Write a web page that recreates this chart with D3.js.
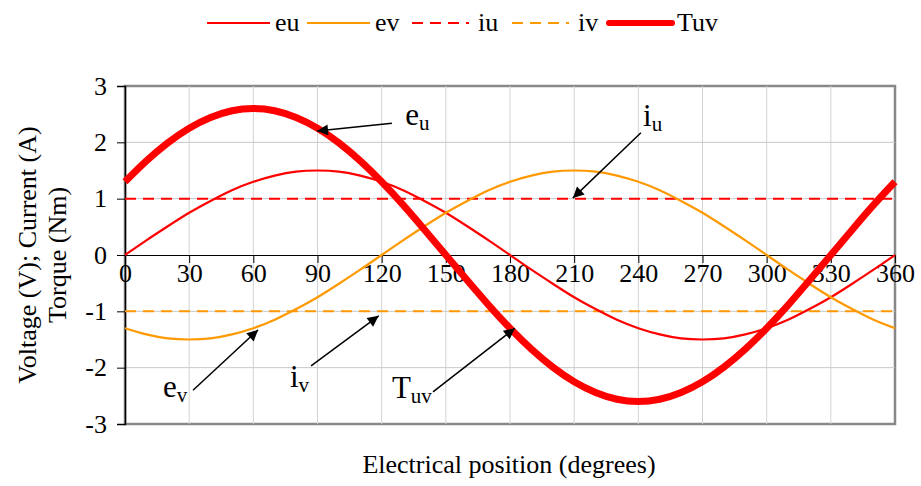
<!DOCTYPE html>
<html>
<head>
<meta charset="utf-8">
<script src="https://cdn.jsdelivr.net/npm/d3@7/dist/d3.min.js"></script>
<style>
  html, body { margin: 0; padding: 0; background: #fff; }
  svg { display: block; font-family: "Liberation Serif", "Times New Roman", serif; }
  svg text { font-family: "Liberation Serif", "Times New Roman", serif; }
</style>
</head>
<body>
<svg id="chart" width="921" height="486"></svg>
<script>
// Electrical position (degrees), sampled every 10 degrees
const positions = [0,10,20,30,40,50,60,70,80,90,100,110,120,130,140,150,160,170,180,
  190,200,210,220,230,240,250,260,270,280,290,300,310,320,330,340,350,360];

// Phase voltages (V)
const eu = [0,0.26,0.51,0.75,0.96,1.15,1.30,1.41,1.48,1.50,1.48,1.41,1.30,1.15,0.96,0.75,0.51,0.26,0,
  -0.26,-0.51,-0.75,-0.96,-1.15,-1.30,-1.41,-1.48,-1.50,-1.48,-1.41,-1.30,-1.15,-0.96,-0.75,-0.51,-0.26,0];
const ev = [-1.30,-1.41,-1.48,-1.50,-1.48,-1.41,-1.30,-1.15,-0.96,-0.75,-0.51,-0.26,0,0.26,0.51,0.75,0.96,1.15,1.30,
  1.41,1.48,1.50,1.48,1.41,1.30,1.15,0.96,0.75,0.51,0.26,0,-0.26,-0.51,-0.75,-0.96,-1.15,-1.30];

// Phase currents (A)
const iu = [1,1,1,1,1,1,1,1,1,1,1,1,1,1,1,1,1,1,1,1,1,1,1,1,1,1,1,1,1,1,1,1,1,1,1,1,1];
const iv = [-1,-1,-1,-1,-1,-1,-1,-1,-1,-1,-1,-1,-1,-1,-1,-1,-1,-1,-1,-1,-1,-1,-1,-1,-1,-1,-1,-1,-1,-1,-1,-1,-1,-1,-1,-1,-1];

// Torque (Nm)
const Tuv = [1.30,1.67,1.99,2.25,2.44,2.56,2.60,2.56,2.44,2.25,1.99,1.67,1.30,0.89,0.45,0,-0.45,-0.89,-1.30,
  -1.67,-1.99,-2.25,-2.44,-2.56,-2.60,-2.56,-2.44,-2.25,-1.99,-1.67,-1.30,-0.89,-0.45,0,0.45,0.89,1.30];

// Axis ticks
const xTicks = [0,30,60,90,120,150,180,210,240,270,300,330,360];
const yTicks = [-3,-2,-1,0,1,2,3];

// Series names and colours
const seriesNames = ["eu","ev","iu","iv","Tuv"];
const seriesColors = ["#ff0000","#ff9900","#ff0000","#ff9900","#ff0000"];

// Callout annotations: label (main letter + subscript), text anchor, arrow tail and tip (degrees, value)
const calloutMain = ["e","i","e","i","T"];
const calloutSub  = ["u","u","v","v","uv"];
const calloutText = [[131,2.31],[242.2,2.29],[17.8,-2.52],[77.1,-2.34],[124.8,-2.54]];
const calloutTail = [[124.8,2.34],[241.2,2.17],[31.8,-2.40],[87,-1.97],[144,-2.43]];
const calloutTip  = [[89.8,2.20],[209.4,1.01],[62.2,-1.33],[118.6,-1.08],[182.3,-1.30]];

const FONT = "Liberation Serif, Times New Roman, serif";
const svg = d3.select("#chart");
const margin = {left: 125, right: 26, top: 86, bottom: 62};
const W = 921, H = 486;

const x = d3.scaleLinear().domain([0, 360]).range([margin.left, W - margin.right]);
const y = d3.scaleLinear().domain([-3, 3]).range([H - margin.bottom, margin.top]);

const defs = svg.append("defs");
defs.append("marker")
  .attr("id", "arrowhead")
  .attr("viewBox", "0 0 10 10")
  .attr("refX", 10).attr("refY", 5)
  .attr("markerWidth", 15).attr("markerHeight", 11)
  .attr("markerUnits", "userSpaceOnUse")
  .attr("orient", "auto")
  .append("path").attr("d", "M0,0 L10,5 L0,10 z").attr("fill", "#000");

// Plot frame
svg.append("rect")
  .attr("x", x(0)).attr("y", y(3))
  .attr("width", x(360) - x(0)).attr("height", y(-3) - y(3))
  .attr("fill", "#fff").attr("stroke", "#888").attr("stroke-width", 2.5);

// Grid lines
svg.append("g").selectAll("line")
  .data(xTicks.filter(d => d > 0 && d < 360))
  .join("line")
  .attr("x1", d => x(d)).attr("x2", d => x(d))
  .attr("y1", y(3)).attr("y2", y(-3))
  .attr("stroke", "#d3d3d3").attr("stroke-width", 1);
svg.append("g").selectAll("line")
  .data(yTicks.filter(d => d > -3 && d < 3 && d !== 0))
  .join("line")
  .attr("x1", x(0)).attr("x2", x(360))
  .attr("y1", d => y(d)).attr("y2", d => y(d))
  .attr("stroke", "#c8c8c8").attr("stroke-width", 1);

// Y axis
const yAxis = svg.append("g")
  .attr("transform", `translate(${x(0)},0)`)
  .call(d3.axisLeft(y).tickValues(yTicks).tickSize(8).tickPadding(10).tickFormat(d => String(d)));
yAxis.attr("font-family", FONT).attr("font-size", 26);
yAxis.select(".domain").attr("stroke", "#000").attr("stroke-width", 1.5);
yAxis.selectAll("text").attr("fill", "#000");

// X axis through zero
const xAxis = svg.append("g")
  .attr("transform", `translate(0,${y(0)})`)
  .call(d3.axisBottom(x).tickValues(xTicks).tickSize(8).tickSizeOuter(0).tickPadding(1).tickFormat(d => String(d)));
xAxis.attr("font-family", FONT).attr("font-size", 26);
xAxis.select(".domain").attr("stroke", "#000").attr("stroke-width", 1.2);
xAxis.selectAll(".tick line").attr("stroke", "#000");
xAxis.selectAll("text").attr("fill", "#000");

// Series lines
const line = d3.line().x((d, i) => x(positions[i])).y(d => y(d)).curve(d3.curveNatural);
const plotG = svg.append("g");
plotG.append("path").datum(iu).attr("d", line).attr("fill", "none")
  .attr("stroke", seriesColors[2]).attr("stroke-width", 2).attr("stroke-dasharray", "11,7");
plotG.append("path").datum(iv).attr("d", line).attr("fill", "none")
  .attr("stroke", seriesColors[3]).attr("stroke-width", 2).attr("stroke-dasharray", "11,7");
plotG.append("path").datum(eu).attr("d", line).attr("fill", "none")
  .attr("stroke", seriesColors[0]).attr("stroke-width", 2.2);
plotG.append("path").datum(ev).attr("d", line).attr("fill", "none")
  .attr("stroke", seriesColors[1]).attr("stroke-width", 2.2);
plotG.append("path").datum(Tuv).attr("d", line).attr("fill", "none")
  .attr("stroke", seriesColors[4]).attr("stroke-width", 7);

// Callouts
const callG = svg.append("g").attr("font-family", FONT);
calloutMain.forEach((m, i) => {
  callG.append("line")
    .attr("x1", x(calloutTail[i][0])).attr("y1", y(calloutTail[i][1]))
    .attr("x2", x(calloutTip[i][0])).attr("y2", y(calloutTip[i][1]))
    .attr("stroke", "#000").attr("stroke-width", 1.5)
    .attr("marker-end", "url(#arrowhead)");
  const t = callG.append("text")
    .attr("x", x(calloutText[i][0])).attr("y", y(calloutText[i][1]))
    .attr("font-size", 31).attr("fill", "#000");
  t.append("tspan").text(m);
  t.append("tspan").attr("font-size", 21).attr("dy", 5).text(calloutSub[i]);
});

// Legend
const legendX = [207, 307, 412, 512, 609];
const legendG = svg.append("g").attr("font-family", FONT);
seriesNames.forEach((name, i) => {
  const isDash = name === "iu" || name === "iv";
  legendG.append("line")
    .attr("x1", legendX[i]).attr("x2", legendX[i] + (isDash ? 57 : 63))
    .attr("y1", 23).attr("y2", 23)
    .attr("stroke", seriesColors[i])
    .attr("stroke-width", name === "Tuv" ? 6 : 2)
    .attr("stroke-linecap", name === "Tuv" ? "round" : "butt")
    .attr("stroke-dasharray", isDash ? "11,7" : null);
  legendG.append("text")
    .attr("x", legendX[i] + (isDash ? 66 : 68)).attr("y", 31)
    .attr("font-size", 26).attr("fill", "#000").text(name);
});

// Axis titles
const yTitleY = (y(3) + y(-3)) / 2;
const titleG = svg.append("g").attr("font-family", FONT).attr("fill", "#000");
titleG.append("text")
  .attr("transform", `translate(36,${yTitleY}) rotate(-90)`)
  .attr("text-anchor", "middle").attr("font-size", 26)
  .text("Voltage (V); Current (A)");
titleG.append("text")
  .attr("transform", `translate(66,${yTitleY}) rotate(-90)`)
  .attr("text-anchor", "middle").attr("font-size", 26)
  .text("Torque (Nm)");
titleG.append("text")
  .attr("x", (x(0) + x(360)) / 2 - 1).attr("y", 473)
  .attr("text-anchor", "middle").attr("font-size", 26)
  .text("Electrical position (degrees)");
</script>
</body>
</html>
